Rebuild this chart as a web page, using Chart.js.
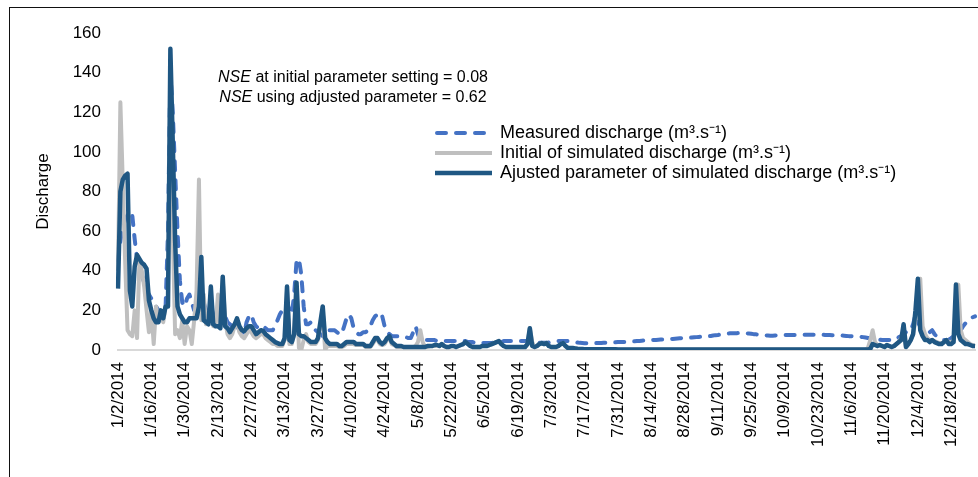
<!DOCTYPE html>
<html>
<head>
<meta charset="utf-8">
<script src="https://cdn.jsdelivr.net/npm/chart.js@4.4.1/dist/chart.umd.min.js"></script>
<style>
  html, body { margin: 0; padding: 0; background: #fff; }
  #wrap { position: relative; width: 978px; height: 477px; overflow: hidden; }
  #frame { position: absolute; left: 9px; top: 7px; width: 1000px; height: 500px;
           border-left: 1px solid #111; border-top: 1px solid #111; pointer-events: none; }
  canvas { position: absolute; left: 0; top: 0; }
</style>
</head>
<body>
<div id="wrap">
  <canvas id="dischargeChart" width="978" height="477"></canvas>
  <div id="frame"></div>
</div>
<script>
// daily series, 1/2/2014 .. 12/28/2014 (one row = two weeks)
const startDate = new Date(2014, 0, 2);
const dayCount = 361;

const tickLabels = ['1/2/2014', '1/16/2014', '1/30/2014', '2/13/2014', '2/27/2014', '3/13/2014',
  '3/27/2014', '4/10/2014', '4/24/2014', '5/8/2014', '5/22/2014', '6/5/2014', '6/19/2014',
  '7/3/2014', '7/17/2014', '7/31/2014', '8/14/2014', '8/28/2014', '9/11/2014', '9/25/2014',
  '10/9/2014', '10/23/2014', '11/6/2014', '11/20/2014', '12/4/2014', '12/18/2014'];

const measured = [
  45, 55, 62, 66, 68, 70, 68, 56, 46, 42, 38, 34, 30, 28,
  26, 24, 22, 20, 18, 18, 22, 60, 140, 120, 90, 60, 35, 24,
  22, 26, 28, 24, 20, 20, 22, 30, 24, 20, 20, 22, 18, 16,
  17, 18, 22, 17, 14, 13, 12, 14, 12, 10, 9, 8, 14, 17,
  18, 14, 12, 11, 11, 12, 11, 10, 10, 10, 12, 15, 18, 20,
  22, 24, 20, 18, 28, 45, 46, 38, 22, 13, 13, 14, 12, 10,
  9, 8, 7, 9, 10, 10, 10, 10, 9, 8, 8, 12, 16, 18,
  16, 11, 9, 8, 8, 9, 9, 10, 12, 15, 17, 18, 19, 17,
  12, 9, 8, 7, 7, 7, 7, 6.5, 6.5, 6.5, 6, 6, 9, 12,
  8, 5, 5, 5, 5, 5, 5, 5, 4.5, 4.5, 4.5, 4.5, 4.5, 4.5,
  4.5, 4.5, 4.5, 4.5, 4.5, 4.5, 4.5, 4, 4, 4, 3.5, 3.5, 3.5, 3.5,
  3.5, 3.5, 3.5, 3.5, 4, 4, 4, 4, 4.5, 4.5, 4.5, 4.5, 4.5, 4.5,
  4.5, 4.5, 4.5, 4.5, 4.5, 4, 4, 4, 3.8, 3.6, 3.6, 3.6, 3.6, 3.8,
  4, 4, 4.2, 4.5, 4.5, 4.5, 4.5, 4.5, 4.5, 4.2, 4, 3.8, 3.6, 3.5,
  3.4, 3.4, 3.4, 3.4, 3.4, 3.5, 3.5, 3.5, 3.6, 3.6, 3.6, 3.7, 3.8, 3.9,
  4, 4, 4.1, 4.1, 4.2, 4.2, 4.3, 4.4, 4.5, 4.6, 4.7, 4.8, 4.9, 5,
  5, 5.1, 5.1, 5.2, 5.3, 5.3, 5.4, 5.5, 5.5, 5.6, 5.7, 5.8, 5.9, 6,
  6.1, 6.2, 6.2, 6.3, 6.4, 6.5, 6.6, 6.7, 6.8, 6.9, 7, 7.1, 7.3, 7.5,
  7.6, 7.8, 8, 8.2, 8.3, 8.4, 8.5, 8.5, 8.5, 8.6, 8.6, 8.5, 8.4, 8.3,
  8.2, 8, 7.9, 7.8, 7.6, 7.5, 7.4, 7.3, 7.2, 7.2, 7.3, 7.4, 7.5, 7.5,
  7.6, 7.6, 7.6, 7.6, 7.6, 7.6, 7.6, 7.6, 7.7, 7.7, 7.7, 7.7, 7.7, 7.7,
  7.7, 7.7, 7.7, 7.6, 7.6, 7.6, 7.5, 7.5, 7.5, 7.4, 7.3, 7.2, 7.1, 7,
  7, 6.9, 6.8, 6.7, 6.6, 6.5, 6.3, 6.1, 5.9, 5.7, 5.6, 5.4, 5.2, 5,
  5, 5, 5, 5, 5, 5.5, 6.5, 7, 8, 9, 9, 10, 13, 17.7,
  14, 11.8, 9.5, 8.4, 8.4, 9, 10, 8, 6.7, 6, 5.5, 5, 5, 5.2,
  6, 7, 8, 9, 10, 12, 13.5, 15, 16, 16.5, 17
];

const initialSim = [
  40, 125, 85, 45, 10, 8, 7, 20, 6, 45, 40, 32, 20, 9,
  20, 3, 22, 15, 18, 14, 22, 22, 140, 60, 8, 10, 6, 15,
  3, 12, 10, 3, 15, 30, 86, 15, 28, 13, 17, 20, 12, 12,
  28, 12, 36, 15, 8, 6, 8, 12, 14, 9, 7, 6, 8, 10,
  9, 7, 6, 7, 8, 8, 6, 5, 4, 3, 3, 2, 2, 2,
  5, 30, 3, 3, 8, 32, 1, 0, 5, 8, 4, 3, 3, 3,
  5, 12, 20, 0, 2, 2, 2, 2, 2, 1.5, 1.5, 2, 3, 3,
  3, 3, 2.5, 2.5, 2.5, 2.5, 1.5, 1.5, 1.5, 3, 5, 5, 3, 2.5,
  3, 5, 6, 3, 2.5, 1.5, 1.5, 1.5, 1.5, 1.5, 1.5, 1.5, 1.5, 2,
  4, 10, 4, 1.5, 1.5, 2, 2, 2, 2.5, 2, 3, 2, 1.5, 1.5,
  2, 2, 1.5, 2, 2.5, 3, 4, 3, 2, 1.5, 1.5, 1.5, 1.5, 2,
  2, 2, 2.5, 3, 3.5, 4, 4.5, 3, 2, 1.5, 1.5, 1.5, 1.5, 1.5,
  1.5, 1.5, 1.5, 1.5, 3, 11, 4, 1.5, 2, 3, 3.5, 3, 3.5, 2,
  1.5, 1.5, 1.5, 2, 3, 3.5, 2, 1, 1, 1, 0.8, 0.6, 0.5, 0.5,
  0.4, 0.4, 0.4, 0.4, 0.4, 0.4, 0.4, 0.4, 0.4, 0.4, 0.4, 0.4, 0.4, 0.4,
  0.3, 0.3, 0.3, 0.3, 0.3, 0.3, 0.3, 0.3, 0.3, 0.3, 0.3, 0.3, 0.3, 0.3,
  0.3, 0.3, 0.3, 0.3, 0.3, 0.3, 0.3, 0.3, 0.3, 0.3, 0.3, 0.3, 0.3, 0.3,
  0.3, 0.3, 0.3, 0.3, 0.3, 0.3, 0.3, 0.3, 0.3, 0.3, 0.3, 0.3, 0.3, 0.3,
  0.3, 0.3, 0.3, 0.3, 0.3, 0.3, 0.3, 0.3, 0.3, 0.3, 0.3, 0.3, 0.3, 0.3,
  0.3, 0.3, 0.3, 0.3, 0.3, 0.3, 0.3, 0.3, 0.3, 0.3, 0.3, 0.3, 0.3, 0.3,
  0.3, 0.3, 0.3, 0.3, 0.3, 0.3, 0.3, 0.3, 0.3, 0.3, 0.3, 0.3, 0.3, 0.3,
  0.3, 0.3, 0.3, 0.3, 0.3, 0.3, 0.3, 0.3, 0.3, 0.3, 0.3, 0.3, 0.3, 0.3,
  0.3, 0.3, 0.3, 0.3, 0.3, 0.3, 0.3, 1, 5, 10, 4, 2.5, 2.5, 2,
  1.5, 2.5, 2, 1.5, 2, 3, 4, 6, 8, 2, 3, 5, 8, 15,
  30, 36, 12, 8, 6, 5, 5, 4.5, 4, 3.5, 3.5, 4, 5, 4,
  4, 5, 20, 33, 10, 6, 5, 4, 3, 2.5, 2
];

const adjustedSim = [
  31, 80, 86, 88, 89, 30, 22, 42, 48, 46, 44, 43, 41, 25,
  20, 16, 14, 14, 20, 16, 22, 22, 152, 105, 55, 22, 18, 16,
  14, 14, 16, 16, 16, 16, 22, 47, 15, 14, 13, 32, 13, 12,
  12, 11, 37, 12, 11, 9, 11, 13, 16, 12, 10, 9.5, 11, 12,
  12, 10, 8, 9, 10, 9.6, 8, 7, 6, 5, 4, 3.5, 3, 3,
  6, 32, 5, 4, 8, 34, 8, 7, 7, 6, 5, 4, 4, 4,
  6, 14, 22, 6, 4, 3, 3, 3, 3, 2, 2, 3, 4, 4,
  4, 4, 3, 3, 3, 3, 2, 2, 2, 4, 6, 6, 4, 3,
  4, 6, 7, 4, 3, 2, 2, 2, 1.5, 1.5, 1.5, 1.5, 1.5, 1.5,
  1.5, 1.5, 1.5, 1.5, 2, 2, 2, 2.5, 2.5, 2, 3, 2, 1.5, 1.5,
  2, 2, 1.5, 2, 2.5, 3, 4, 3, 2, 1.5, 1.5, 1.5, 1.5, 2,
  2, 2, 2.5, 3, 3.5, 4, 4.5, 3, 2, 1.5, 1.5, 1.5, 1.5, 1.5,
  1.5, 1.5, 1.5, 1.5, 3, 11, 2, 1.5, 2, 3, 3.5, 3, 3.5, 2,
  1.5, 1.5, 1.5, 2, 3, 3.5, 2, 1, 1, 1, 0.8, 0.6, 0.5, 0.5,
  0.4, 0.4, 0.4, 0.4, 0.4, 0.4, 0.4, 0.4, 0.4, 0.4, 0.4, 0.4, 0.4, 0.4,
  0.3, 0.3, 0.3, 0.3, 0.3, 0.3, 0.3, 0.3, 0.3, 0.3, 0.3, 0.3, 0.3, 0.3,
  0.3, 0.3, 0.3, 0.3, 0.3, 0.3, 0.3, 0.3, 0.3, 0.3, 0.3, 0.3, 0.3, 0.3,
  0.3, 0.3, 0.3, 0.3, 0.3, 0.3, 0.3, 0.3, 0.3, 0.3, 0.3, 0.3, 0.3, 0.3,
  0.3, 0.3, 0.3, 0.3, 0.3, 0.3, 0.3, 0.3, 0.3, 0.3, 0.3, 0.3, 0.3, 0.3,
  0.3, 0.3, 0.3, 0.3, 0.3, 0.3, 0.3, 0.3, 0.3, 0.3, 0.3, 0.3, 0.3, 0.3,
  0.3, 0.3, 0.3, 0.3, 0.3, 0.3, 0.3, 0.3, 0.3, 0.3, 0.3, 0.3, 0.3, 0.3,
  0.3, 0.3, 0.3, 0.3, 0.3, 0.3, 0.3, 0.3, 0.3, 0.3, 0.3, 0.3, 0.3, 0.3,
  0.3, 0.3, 0.3, 0.3, 0.3, 0.3, 0.3, 0.3, 0.5, 3, 2.5, 2, 2.5, 2,
  1.5, 2.5, 2, 1.5, 2, 3, 4, 5, 13, 1.5, 3, 5, 8, 20,
  36, 10, 7, 5, 5, 4, 5, 4, 3.5, 3, 3, 4, 5, 3,
  3, 4, 33, 8, 5, 4, 3, 3, 2.5, 2, 2
];

const seriesNames = ['Measured discharge (m³.s⁻¹)', 'Initial of simulated discharge (m³.s⁻¹)',
  'Ajusted parameter of simulated discharge (m³.s⁻¹)'];
const nseText = [['NSE', ' at initial parameter setting = 0.08'], ['NSE', ' using adjusted parameter = 0.62']];

const categories = [];
for (let i = 0; i < dayCount; i++) {
  const d = new Date(startDate.getFullYear(), startDate.getMonth(), startDate.getDate() + i);
  categories.push((d.getMonth() + 1) + '/' + d.getDate() + '/' + d.getFullYear());
}

const FAMILY = '"Liberation Sans", Arial, sans-serif';
Chart.defaults.font.family = FAMILY;
Chart.defaults.font.size = 17;
Chart.defaults.color = '#000';

// NSE note + legend drawn inside the plot
const notes = {
  id: 'notes',
  afterDatasetsDraw(chart) {
    const ctx = chart.ctx;
    ctx.save();
    ctx.fillStyle = '#000';
    ctx.textBaseline = 'alphabetic';
    nseText.forEach((parts, i) => {
      ctx.font = 'italic 16px ' + FAMILY;
      const w1 = ctx.measureText(parts[0]).width;
      ctx.font = '16px ' + FAMILY;
      const w2 = ctx.measureText(parts[1]).width;
      const x0 = 353 - (w1 + w2) / 2;
      const y = 81.5 + i * 20;
      ctx.font = 'italic 16px ' + FAMILY;
      ctx.fillText(parts[0], x0, y);
      ctx.font = '16px ' + FAMILY;
      ctx.fillText(parts[1], x0 + w1, y);
    });

    chart.data.datasets.forEach((ds, i) => {
      const y = 133 + i * 20;
      ctx.beginPath();
      ctx.lineWidth = ds.borderWidth;
      ctx.strokeStyle = ds.borderColor;
      ctx.lineCap = ds.borderDash ? 'round' : 'butt';
      ctx.setLineDash(ds.borderDash || []);
      ctx.moveTo(ds.borderDash ? 437 : 435, y);
      ctx.lineTo(492, y);
      ctx.stroke();
      ctx.setLineDash([]);
      ctx.font = '18px ' + FAMILY;
      ctx.textBaseline = 'middle';
      ctx.fillText(ds.label, 500, y);
    });
    ctx.restore();
  }
};

new Chart(document.getElementById('dischargeChart').getContext('2d'), {
  type: 'line',
  data: {
    labels: categories,
    datasets: [
      {
        label: seriesNames[0],
        data: measured,
        borderColor: '#4472c4',
        borderWidth: 4,
        borderDash: [9, 10],
        borderCapStyle: 'round',
        borderJoinStyle: 'round',
        pointRadius: 0,
        tension: 0,
        order: 3
      },
      {
        label: seriesNames[1],
        data: initialSim,
        borderColor: '#bfbfbf',
        borderWidth: 4,
        borderJoinStyle: 'round',
        pointRadius: 0,
        tension: 0,
        order: 2
      },
      {
        label: seriesNames[2],
        data: adjustedSim,
        borderColor: '#1f5783',
        borderWidth: 4.5,
        borderJoinStyle: 'round',
        pointRadius: 0,
        tension: 0,
        order: 1
      }
    ]
  },
  options: {
    responsive: false,
    animation: false,
    layout: { padding: { top: 33, right: 3, left: 0, bottom: 0 } },
    plugins: { legend: { display: false }, tooltip: { enabled: false } },
    scales: {
      x: {
        grid: { display: false, drawTicks: true, tickLength: 12 },
        border: { display: true, color: '#d9d9d9', width: 2 },
        ticks: {
          autoSkip: false,
          minRotation: 90,
          maxRotation: 90,
          padding: 0,
          color: '#000',
          font: { size: 17 },
          callback: function (value) {
            const lab = this.getLabelForValue(value);
            return tickLabels.includes(lab) ? lab : null;
          }
        },
        afterFit(scale) { scale.height = 127; }
      },
      y: {
        min: 0,
        max: 160,
        grid: { display: false, drawTicks: false },
        border: { display: false },
        ticks: { stepSize: 20, padding: 17, color: '#000', font: { size: 17 } },
        title: { display: true, text: 'Discharge', color: '#000', font: { size: 17 }, padding: { top: 33, bottom: 0 } },
        afterFit(scale) { scale.width = 118; }
      }
    }
  },
  plugins: [notes]
});
</script>
</body>
</html>
